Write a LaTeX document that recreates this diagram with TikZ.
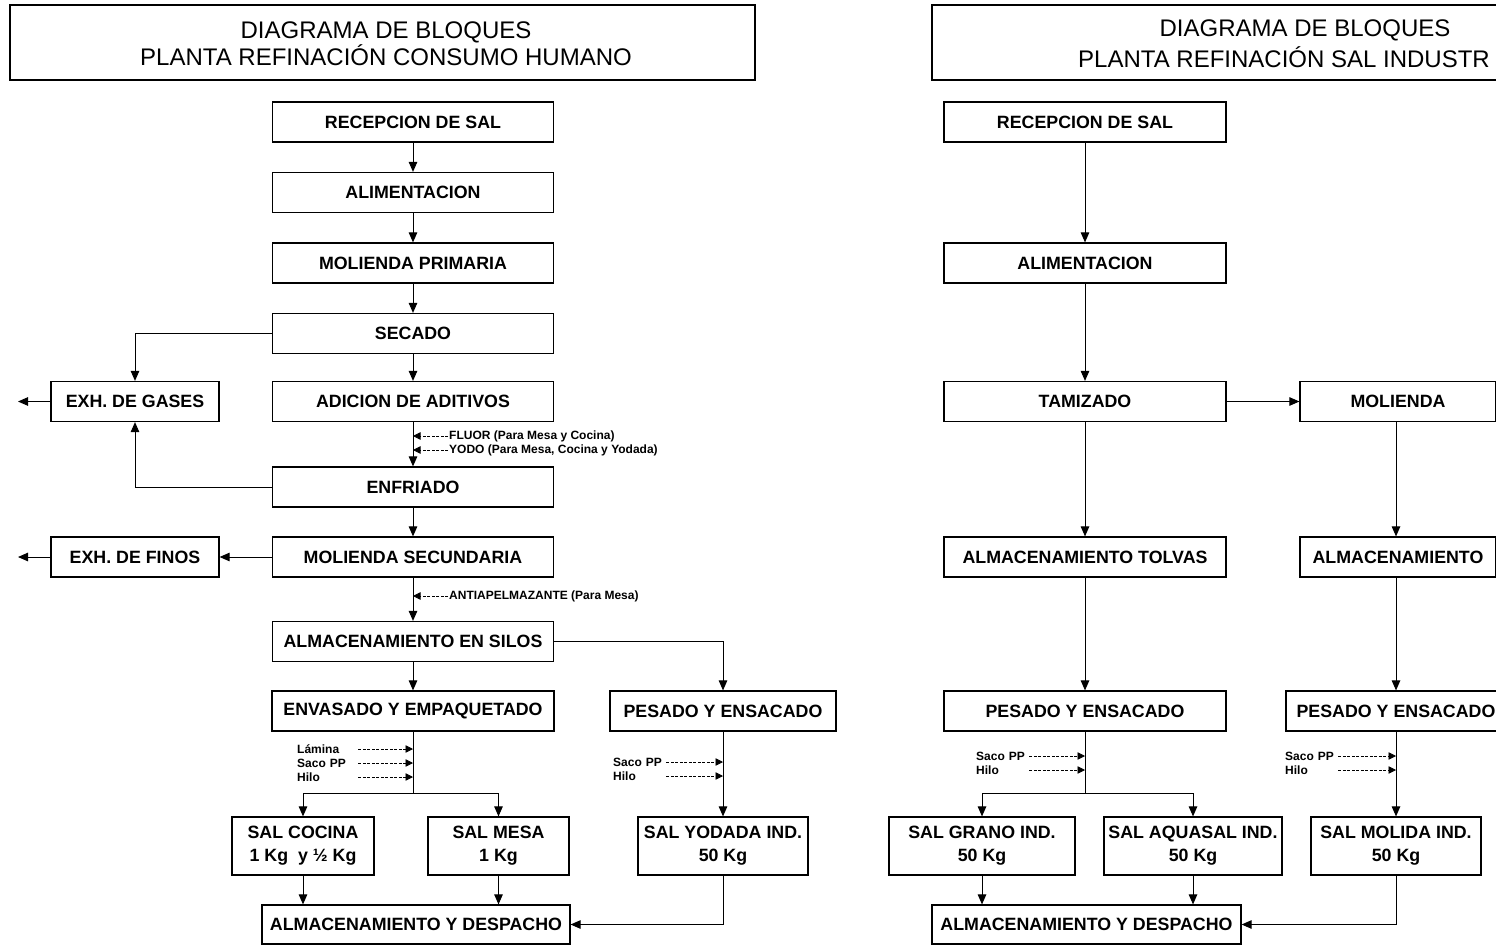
\documentclass[tikz,border=0pt]{standalone}
\usepackage{fontspec}
\setmainfont{Liberation Sans}
\usetikzlibrary{arrows.meta}
\begin{document}
\begin{tikzpicture}[x=1pt,y=-1pt,
  box/.style={draw, line width=1.2pt, font=\bfseries\fontsize{17.8}{23}\selectfont, align=center, inner sep=0pt, minimum height=40pt},
  tall/.style={box, minimum height=58pt},
  tbox/.style={draw, line width=1.2pt, inner sep=0pt, minimum height=75pt},
  ttl/.style={font=\fontsize{24}{27}\selectfont, inner sep=0pt, align=center},
  arr/.style={line width=1pt, -{Triangle[length=10pt,width=8.5pt]}},
  ln/.style={line width=1pt},
  dsh/.style={line width=0.8pt, dash pattern=on 3pt off 1.5pt, -{Triangle[length=7.5pt,width=7.5pt]}},
  lbl/.style={font=\bfseries\fontsize{12}{13}\selectfont, inner sep=1pt},
  sl/.style={lbl, anchor=west, text width=#1, align=left},
]
\useasboundingbox (0,0) rectangle (1496,945);
\clip (0,0) rectangle (1496,945);

% ---------------- LEFT DIAGRAM ----------------
\node[tbox, minimum width=745pt] (t1) at (382.5,42.5) {};
\node[ttl] (t1a) at (386,43.5) {DIAGRAMA DE BLOQUES\\PLANTA REFINACIÓN CONSUMO HUMANO};

\node[box, minimum width=281pt] (rec1) at (413,122) {RECEPCION DE SAL};
\node[box, minimum width=281pt] (ali1) at (413,192.5) {ALIMENTACION};
\node[box, minimum width=281pt] (mp1) at (413,263) {MOLIENDA PRIMARIA};
\node[box, minimum width=281pt] (sec1) at (413,333.5) {SECADO};
\node[box, minimum width=281pt] (adi1) at (413,401.5) {ADICION DE ADITIVOS};
\node[box, minimum width=281pt] (enf1) at (413,487) {ENFRIADO};
\node[box, minimum width=281pt] (ms1) at (413,557) {MOLIENDA SECUNDARIA};
\node[box, minimum width=281pt] (silos) at (413,641.5) {ALMACENAMIENTO EN SILOS};
\node[box, minimum width=282pt] (env) at (413,711) {ENVASADO Y EMPAQUETADO};
\node[box, minimum width=226pt] (pes1) at (723,711) {PESADO Y ENSACADO};
\node[box, minimum width=168pt] (gases) at (135,401.5) {EXH. DE GASES};
\node[box, minimum width=168pt] (finos) at (135,557) {EXH. DE FINOS};
\node[tall, minimum width=142pt] (cocina) at (303,846) {SAL COCINA\\1 Kg\ \ y ½ Kg};
\node[tall, minimum width=141pt] (mesa) at (498.5,846) {SAL MESA\\1 Kg};
\node[tall, minimum width=170pt] (yod) at (723,846) {SAL YODADA IND.\\50 Kg};
\node[box, minimum width=308pt, minimum height=39pt] (desp1) at (416,924.5) {ALMACENAMIENTO Y DESPACHO};

\coordinate (gout) at (18,401.5);
\coordinate (fout) at (18,557);
\coordinate (split1) at (413,793);

\draw[arr] (rec1) -- (ali1);
\draw[arr] (ali1) -- (mp1);
\draw[arr] (mp1) -- (sec1);
\draw[arr] (sec1) -- (adi1);
\draw[arr] (adi1) -- (enf1);
\draw[arr] (enf1) -- (ms1);
\draw[arr] (ms1) -- (silos);
\draw[arr] (silos) -- (env);
\draw[arr] (sec1.west) -| (gases.north);
\draw[arr] (enf1.west) -| (gases.south);
\draw[arr] (gases.west) -- (gout);
\draw[arr] (ms1.west) -- (finos.east);
\draw[arr] (finos.west) -- (fout);
\draw[arr] (silos.east) -| (pes1.north);
\draw[ln] (env.south) -- (split1);
\draw[arr] (split1) -| (cocina.north);
\draw[arr] (split1) -| (mesa.north);
\draw[arr] (pes1) -- (yod);
\draw[arr] (cocina.south) -- (cocina.south |- desp1.north);
\draw[arr] (mesa.south) -- (mesa.south |- desp1.north);
\draw[arr] (yod.south) |- (desp1.east);

\node[lbl, anchor=west] (fl) at (448,436) {FLUOR (Para Mesa y Cocina)};
\node[lbl, anchor=west] (yo) at (448,450) {YODO (Para Mesa, Cocina y Yodada)};
\node[lbl, anchor=west] (an) at (448,596) {ANTIAPELMAZANTE (Para Mesa)};
\draw[dsh] (fl.west) -- (fl.west -| adi1.south);
\draw[dsh] (yo.west) -- (yo.west -| adi1.south);
\draw[dsh] (an.west) -- (an.west -| ms1.south);

\node[sl=60pt] (la1) at (296,749) {Lámina};
\node[sl=60pt] (sp1) at (296,763) {Saco PP};
\node[sl=60pt] (hi1) at (296,777) {Hilo};
\draw[dsh] (la1.east) -- (la1.east -| env.south);
\draw[dsh] (sp1.east) -- (sp1.east -| env.south);
\draw[dsh] (hi1.east) -- (hi1.east -| env.south);

\node[sl=52pt] (sp2) at (612,762) {Saco PP};
\node[sl=52pt] (hi2) at (612,776) {Hilo};
\draw[dsh] (sp2.east) -- (sp2.east -| pes1.south);
\draw[dsh] (hi2.east) -- (hi2.east -| pes1.south);

% ---------------- RIGHT DIAGRAM ----------------
\node[tbox, minimum width=573pt] (t2) at (1218.5,42.5) {};
\node[ttl] (t2a) at (1305,30) {DIAGRAMA DE BLOQUES};
\node[ttl, anchor=west] (t2b) at (1078,57) {PLANTA REFINACIÓN SAL INDUSTR};

\node[box, minimum width=282pt] (rec2) at (1085,122) {RECEPCION DE SAL};
\node[box, minimum width=282pt] (ali2) at (1085,263) {ALIMENTACION};
\node[box, minimum width=282pt] (tam) at (1085,401.5) {TAMIZADO};
\node[box, minimum width=282pt] (tol) at (1085,557) {ALMACENAMIENTO TOLVAS};
\node[box, minimum width=282pt] (pes2) at (1085,711) {PESADO Y ENSACADO};
\node[box, minimum width=196pt] (mol) at (1398,401.5) {MOLIENDA};
\node[box, minimum width=196pt] (alm) at (1398,557) {ALMACENAMIENTO};
\node[box, minimum width=220pt] (pes3) at (1396,711) {PESADO Y ENSACADO};
\node[tall, minimum width=186pt] (grano) at (982,846) {SAL GRANO IND.\\50 Kg};
\node[tall, minimum width=178pt] (aqua) at (1193,846) {SAL AQUASAL IND.\\50 Kg};
\node[tall, minimum width=170pt] (molida) at (1396,846) {SAL MOLIDA IND.\\50 Kg};
\node[box, minimum width=309pt, minimum height=39pt] (desp2) at (1086.5,924.5) {ALMACENAMIENTO Y DESPACHO};

\coordinate (split2) at (1085,793);

\draw[arr] (rec2) -- (ali2);
\draw[arr] (ali2) -- (tam);
\draw[arr] (tam) -- (tol);
\draw[arr] (tol) -- (pes2);
\draw[arr] (tam.east) -- (mol.west);
\draw[arr] (mol.south -| pes3.north) -- (alm.north -| pes3.north);
\draw[arr] (alm.south -| pes3.north) -- (pes3.north);
\draw[arr] (pes3) -- (molida);
\draw[ln] (pes2.south) -- (split2);
\draw[arr] (split2) -| (grano.north);
\draw[arr] (split2) -| (aqua.north);
\draw[arr] (grano.south) -- (grano.south |- desp2.north);
\draw[arr] (aqua.south) -- (aqua.south |- desp2.north);
\draw[arr] (molida.south) |- (desp2.east);

\node[sl=52pt] (sp3) at (975,756) {Saco PP};
\node[sl=52pt] (hi3) at (975,770) {Hilo};
\draw[dsh] (sp3.east) -- (sp3.east -| pes2.south);
\draw[dsh] (hi3.east) -- (hi3.east -| pes2.south);

\node[sl=52pt] (sp4) at (1284,756) {Saco PP};
\node[sl=52pt] (hi4) at (1284,770) {Hilo};
\draw[dsh] (sp4.east) -- (sp4.east -| pes3.south);
\draw[dsh] (hi4.east) -- (hi4.east -| pes3.south);
\end{tikzpicture}
\end{document}
